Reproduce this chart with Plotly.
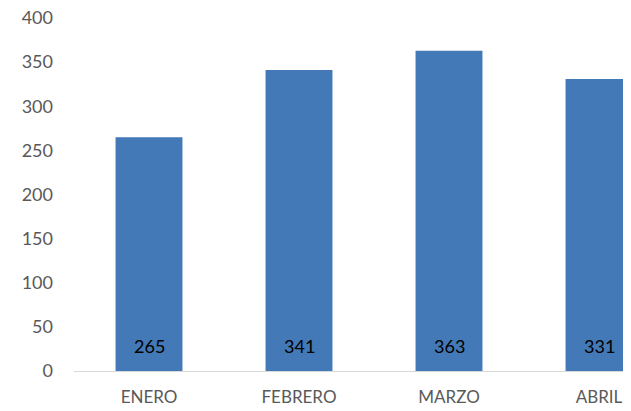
import plotly.graph_objects as go

categories = ["ENERO", "FEBRERO", "MARZO", "ABRIL"]
values = [265, 341, 363, 331]
y_ticks = [0, 50, 100, 150, 200, 250, 300, 350, 400]

fig = go.Figure()
fig.add_trace(go.Bar(
    x=categories, y=values, width=0.446,
    marker=dict(color="#4279B6", line=dict(width=0)),
    hoverinfo="x+y",
))
for c, v in zip(categories, values):
    fig.add_annotation(x=c, y=0, yshift=25, text=str(v), showarrow=False,
                       font=dict(family="Lato", size=18, color="#000000"))

fig.update_layout(
    width=615, height=403,
    margin=dict(l=66, r=0, t=10, b=40, autoexpand=False),
    paper_bgcolor="white", plot_bgcolor="white",
    showlegend=False,
    font=dict(family="Lato", size=18, color="#595959"),
    xaxis=dict(range=[-0.5, 3.16], showline=True, linecolor="#D9D9D9", linewidth=1,
               showgrid=False, ticks="", ticklabelstandoff=11, automargin=False,
               tickfont=dict(size=17, color="#595959")),
    yaxis=dict(range=[0, 400], tickvals=y_ticks, showgrid=False, zeroline=False,
               showline=False, ticks="", ticklen=0, ticklabelstandoff=20,
               ticklabeloverflow="allow", automargin=False,
               tickfont=dict(size=18, color="#595959")),
)
fig.write_html("out.html")
